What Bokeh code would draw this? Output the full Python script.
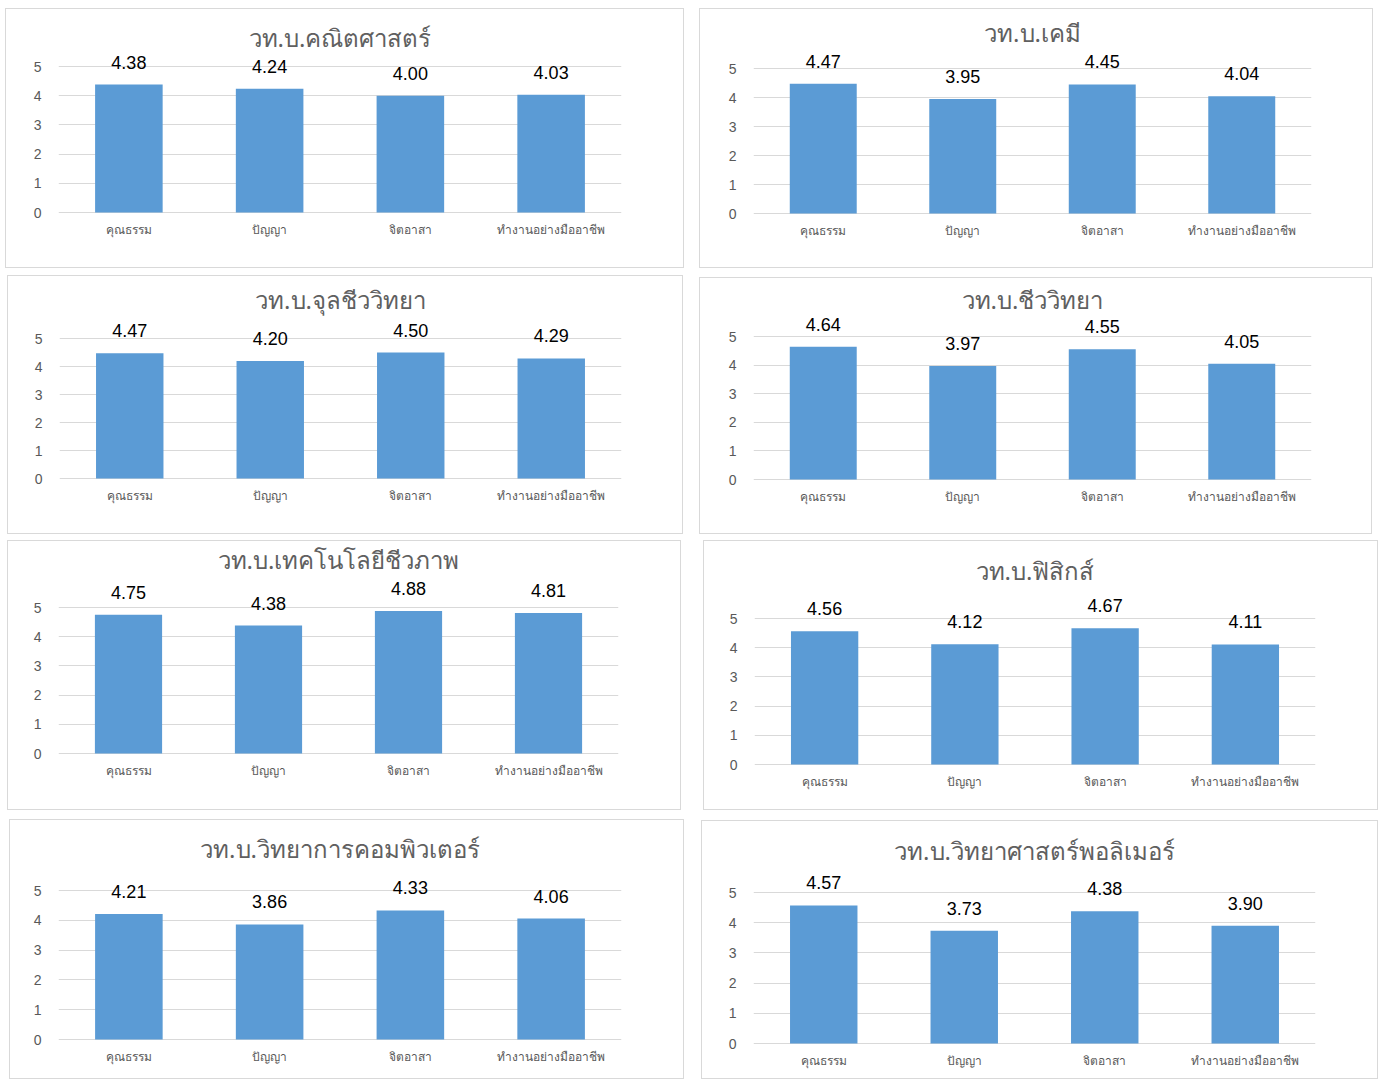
from bokeh.plotting import figure
from bokeh.layouts import column, row
from bokeh.models import ColumnDataSource, FixedTicker, Range1d, FactorRange, Label
from bokeh.core.properties import value
from bokeh.embed import file_html
from bokeh.resources import INLINE

categories = ["คุณธรรม", "ปัญญา", "จิตอาสา", "ทำงานอย่างมืออาชีพ"]

titles = [
    "วท.บ.คณิตศาสตร์",
    "วท.บ.เคมี",
    "วท.บ.จุลชีววิทยา",
    "วท.บ.ชีววิทยา",
    "วท.บ.เทคโนโลยีชีวภาพ",
    "วท.บ.ฟิสิกส์",
    "วท.บ.วิทยาการคอมพิวเตอร์",
    "วท.บ.วิทยาศาสตร์พอลิเมอร์",
]

math_vals = [4.38, 4.24, 4.00, 4.03]
chem_vals = [4.47, 3.95, 4.45, 4.04]
micro_vals = [4.47, 4.20, 4.50, 4.29]
bio_vals = [4.64, 3.97, 4.55, 4.05]
biotech_vals = [4.75, 4.38, 4.88, 4.81]
phys_vals = [4.56, 4.12, 4.67, 4.11]
comp_vals = [4.21, 3.86, 4.33, 4.06]
poly_vals = [4.57, 3.73, 4.38, 3.90]

series = [math_vals, chem_vals, micro_vals, bio_vals,
          biotech_vals, phys_vals, comp_vals, poly_vals]

y_ticks = [0, 1, 2, 3, 4, 5]

# layout geometry per panel (absolute page pixels):
# box_left, box_top, box_right, box_bottom, frame_left, frame_right, y5_px, y0_px, title_y
geom = [
    (5, 8, 684, 268, 57, 620, 65, 211, 38),
    (699, 8, 1373, 268, 752, 1310, 67, 212, 33),
    (7, 275, 683, 534, 58, 620, 337, 477, 300),
    (699, 277, 1372, 534, 752, 1310, 335, 478, 300),
    (7, 540, 681, 810, 57, 617, 606, 752, 560),
    (703, 540, 1378, 810, 753, 1314, 617, 763, 571),
    (9, 819, 684, 1079, 57, 620, 889, 1038, 849),
    (701, 820, 1378, 1079, 752, 1314, 891, 1042, 851),
]

THAI = "Noto Sans"
GRAY = "#595959"
GRID = "#d9d9d9"
BAR = "#5b9bd5"
TOP_PAD = 2


def make_panel(title, vals, g, margin):
    bl, bt, br, bb, fl, fr, y5, y0, ty = g
    w = br - bl
    h = bb - bt
    bottom_pad = bb - y0 - 1
    ppu = (y0 - y5) / 5.0
    ftop = bt + TOP_PAD
    fbot = bb - bottom_pad
    ymax = 5 + (y5 - ftop) / ppu
    ymin = -(fbot - y0) / ppu
    p = figure(
        width=w, height=h,
        x_range=FactorRange(*categories, range_padding=0),
        y_range=Range1d(ymin, ymax),
        output_backend="svg", toolbar_location=None,
        min_border_left=fl - bl, min_border_right=br - fr,
        min_border_top=TOP_PAD, min_border_bottom=bottom_pad,
        margin=margin,
        styles={"border": "1px solid #d9d9d9"},
    )
    p.add_layout(Label(
        x=(fr - fl) / 2.0, y=fbot - ty + 2, x_units="screen", y_units="screen",
        text=title, text_align="center", text_baseline="middle",
        text_font=THAI, text_font_size="24px", text_color="#606060",
    ))
    p.outline_line_color = None
    src = ColumnDataSource(dict(cat=categories, val=vals,
                                lab=["%.2f" % v for v in vals]))
    p.vbar(x="cat", top="val", bottom=0, width=0.48, source=src,
           fill_color=BAR, line_color=None)
    p.text(x="cat", y="val", text="lab", source=src,
           text_align="center", text_baseline="bottom", y_offset=-16,
           text_font=value("Liberation Sans"), text_font_size="18px",
           text_color="#000000")
    p.yaxis.ticker = FixedTicker(ticks=y_ticks)
    p.ygrid.ticker = FixedTicker(ticks=y_ticks)
    p.ygrid.grid_line_color = GRID
    p.xgrid.grid_line_color = None
    p.yaxis.axis_line_color = None
    p.yaxis.major_tick_line_color = None
    p.yaxis.minor_tick_line_color = None
    p.yaxis.major_label_standoff = 11
    p.yaxis.major_label_text_color = GRAY
    p.yaxis.major_label_text_font = "Liberation Sans"
    p.yaxis.major_label_text_font_size = "14px"
    p.xaxis.axis_line_color = None
    p.xaxis.major_tick_line_color = None
    p.xaxis.minor_tick_line_color = None
    p.xaxis.major_label_standoff = 1
    p.xaxis.major_label_text_color = GRAY
    p.xaxis.major_label_text_font = THAI
    p.xaxis.major_label_text_font_size = "12px"
    return p


rows = []
prev_bottom = 0
for r in range(4):
    gl = geom[2 * r]
    gr = geom[2 * r + 1]
    ml = (gl[1] - prev_bottom, 0, 0, gl[0])
    mr = (gr[1] - prev_bottom, 0, 0, gr[0] - gl[2])
    pl = make_panel(titles[2 * r], series[2 * r], gl, ml)
    pr = make_panel(titles[2 * r + 1], series[2 * r + 1], gr, mr)
    rows.append(row(column(pl), column(pr)))
    prev_bottom = max(gl[3], gr[3])

layout = column(*rows)
open("out.html", "w").write(file_html(layout, INLINE))
